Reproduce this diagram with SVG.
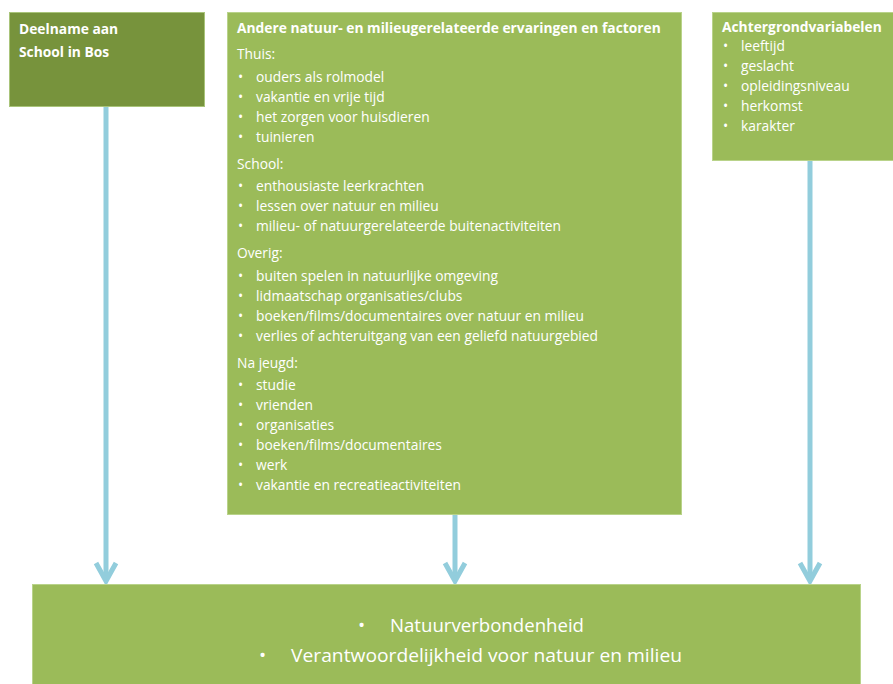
<svg xmlns="http://www.w3.org/2000/svg" width="893" height="684" viewBox="0 0 893 684">
<style>
.box{fill:#9BBB59;stroke:#B9D38A;stroke-width:1}
.dark{fill:#77933C;stroke:#A9C47A;stroke-width:1}
.t{font-family:"Open Sans","Liberation Sans",sans-serif;font-size:13.8px;fill:#FFFFFF}
.b{font-weight:bold}
.big{font-family:"Open Sans","Liberation Sans",sans-serif;font-size:19px;fill:#FFFFFF}
.arr{stroke:#92CDDC;stroke-width:5;fill:none}
.head{stroke:#92CDDC;stroke-width:5;fill:none;stroke-linecap:butt}
</style>
<rect width="893" height="684" fill="#FFFFFF"/>
<g id="connectors">
<line class="arr" x1="106" y1="106" x2="106" y2="581"/>
<polyline class="head" points="96,563 106,581 116,563"/>
<line class="arr" x1="455" y1="514" x2="455" y2="581"/>
<polyline class="head" points="445,563 455,581 465,563"/>
<line class="arr" x1="810" y1="160" x2="810" y2="581"/>
<polyline class="head" points="800,563 810,581 820,563"/>
</g>
<g id="node-school">
<rect class="dark" x="9.5" y="12.5" width="195" height="94"/>
<text class="t b" x="19" y="34">Deelname aan</text>
<text class="t b" x="19" y="57">School in Bos</text>
</g>
<g id="node-andere">
<rect class="box" x="227.5" y="12.5" width="454" height="502"/>
<text class="t b" x="237" y="33">Andere natuur- en milieugerelateerde ervaringen en factoren</text>
<text class="t" x="237" y="59">Thuis:</text>
<text class="t" x="238" y="82">•</text><text class="t" x="256" y="82">ouders als rolmodel</text>
<text class="t" x="238" y="102">•</text><text class="t" x="256" y="102">vakantie en vrije tijd</text>
<text class="t" x="238" y="122">•</text><text class="t" x="256" y="122">het zorgen voor huisdieren</text>
<text class="t" x="238" y="142">•</text><text class="t" x="256" y="142">tuinieren</text>
<text class="t" x="237" y="169">School:</text>
<text class="t" x="238" y="191">•</text><text class="t" x="256" y="191">enthousiaste leerkrachten</text>
<text class="t" x="238" y="211">•</text><text class="t" x="256" y="211">lessen over natuur en milieu</text>
<text class="t" x="238" y="231">•</text><text class="t" x="256" y="231">milieu- of natuurgerelateerde buitenactiviteiten</text>
<text class="t" x="237" y="258">Overig:</text>
<text class="t" x="238" y="281">•</text><text class="t" x="256" y="281">buiten spelen in natuurlijke omgeving</text>
<text class="t" x="238" y="301">•</text><text class="t" x="256" y="301">lidmaatschap organisaties/clubs</text>
<text class="t" x="238" y="321">•</text><text class="t" x="256" y="321">boeken/films/documentaires over natuur en milieu</text>
<text class="t" x="238" y="341">•</text><text class="t" x="256" y="341">verlies of achteruitgang van een geliefd natuurgebied</text>
<text class="t" x="237" y="368">Na jeugd:</text>
<text class="t" x="238" y="390">•</text><text class="t" x="256" y="390">studie</text>
<text class="t" x="238" y="410">•</text><text class="t" x="256" y="410">vrienden</text>
<text class="t" x="238" y="430">•</text><text class="t" x="256" y="430">organisaties</text>
<text class="t" x="238" y="450">•</text><text class="t" x="256" y="450">boeken/films/documentaires</text>
<text class="t" x="238" y="470">•</text><text class="t" x="256" y="470">werk</text>
<text class="t" x="238" y="490">•</text><text class="t" x="256" y="490">vakantie en recreatieactiviteiten</text>
</g>
<g id="node-achtergrond">
<rect class="box" x="712.5" y="12.5" width="181" height="148"/>
<text class="t b" x="722" y="32">Achtergrondvariabelen</text>
<text class="t" x="723" y="51">•</text><text class="t" x="741" y="51">leeftijd</text>
<text class="t" x="723" y="71">•</text><text class="t" x="741" y="71">geslacht</text>
<text class="t" x="723" y="91">•</text><text class="t" x="741" y="91">opleidingsniveau</text>
<text class="t" x="723" y="111">•</text><text class="t" x="741" y="111">herkomst</text>
<text class="t" x="723" y="131">•</text><text class="t" x="741" y="131">karakter</text>
</g>
<g id="node-result">
<rect class="box" x="32.5" y="584.5" width="828" height="100"/>
<text class="big" x="358" y="632">•</text>
<text class="big" x="390" y="632" textLength="194" lengthAdjust="spacingAndGlyphs">Natuurverbondenheid</text>
<text class="big" x="259" y="662">•</text>
<text class="big" x="291" y="662" textLength="391" lengthAdjust="spacingAndGlyphs">Verantwoordelijkheid voor natuur en milieu</text>
</g>
</svg>
